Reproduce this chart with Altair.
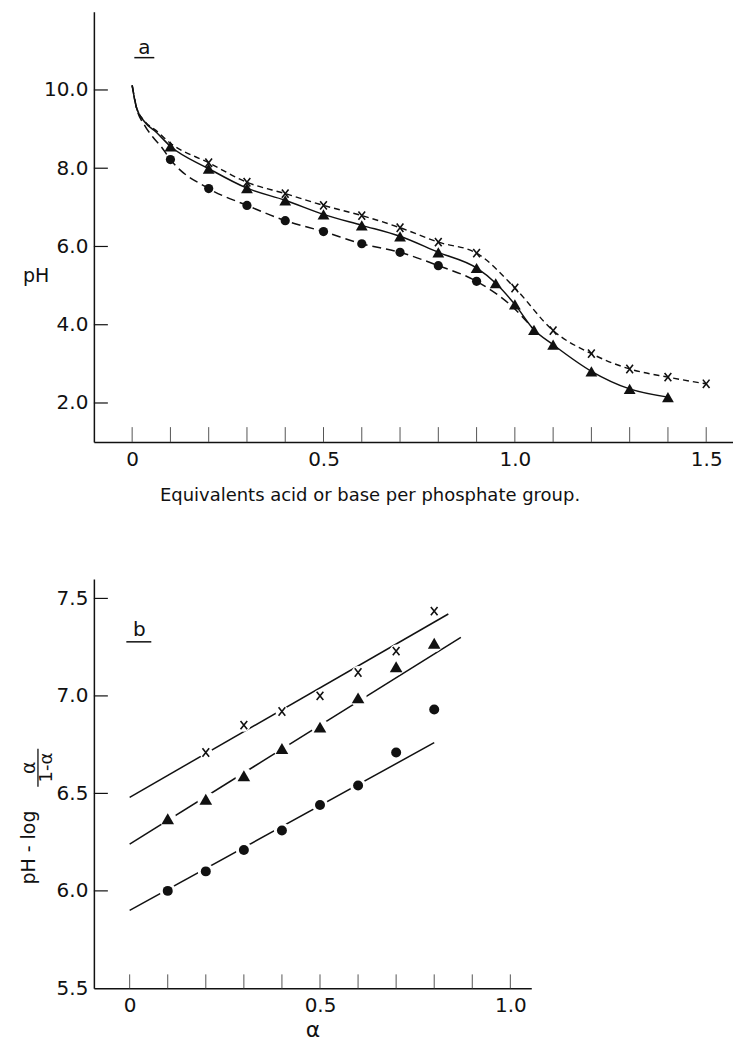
import altair as alt
import pandas as pd

# ---------------- Panel a : titration curves ----------------
a_circle_x = [0.1, 0.2, 0.3, 0.4, 0.5, 0.6, 0.7, 0.8, 0.9]
a_circle_ph = [8.22, 7.48, 7.05, 6.66, 6.38, 6.07, 5.85, 5.51, 5.11]
a_tri_x = [0.1, 0.2, 0.3, 0.4, 0.5, 0.6, 0.7, 0.8, 0.9, 0.95, 1.0, 1.05, 1.1, 1.2, 1.3, 1.4]
a_tri_ph = [8.56, 7.99, 7.49, 7.18, 6.82, 6.54, 6.26, 5.85, 5.45, 5.06, 4.52, 3.87, 3.49, 2.81, 2.36, 2.15]
a_cross_x = [0.2, 0.3, 0.4, 0.5, 0.6, 0.7, 0.8, 0.9, 1.0, 1.1, 1.2, 1.3, 1.4, 1.5]
a_cross_ph = [8.14, 7.64, 7.35, 7.05, 6.79, 6.48, 6.11, 5.83, 4.94, 3.85, 3.26, 2.87, 2.66, 2.49]

# drawn curves (incl. the steep start at 0)
a_circle_curve_x = [0.0, 0.011, 0.033, 0.054, 0.076] + a_circle_x + [1.0, 1.05]
a_circle_curve_ph = [10.12, 9.56, 9.09, 8.80, 8.55] + a_circle_ph + [4.40, 3.87]
a_tri_curve_x = [0.0, 0.011, 0.033, 0.063] + a_tri_x
a_tri_curve_ph = [10.12, 9.56, 9.18, 8.92] + a_tri_ph
a_cross_curve_x = [0.0, 0.011, 0.033, 0.063, 0.1] + a_cross_x
a_cross_curve_ph = [10.12, 9.56, 9.20, 8.96, 8.64] + a_cross_ph

a_xticks = [0.0, 0.1, 0.2, 0.3, 0.4, 0.5, 0.6, 0.7, 0.8, 0.9, 1.0, 1.1, 1.2, 1.3, 1.4, 1.5]
a_xlabels = [0.0, 0.5, 1.0, 1.5]
a_yticks = [2.0, 4.0, 6.0, 8.0, 10.0]

# ---------------- Panel b : pH - log(a/(1-a)) vs alpha ----------------
b_circle_x = [0.1, 0.2, 0.3, 0.4, 0.5, 0.6, 0.7, 0.8]
b_circle_y = [6.00, 6.10, 6.21, 6.31, 6.44, 6.54, 6.71, 6.93]
b_tri_x = [0.1, 0.2, 0.3, 0.4, 0.5, 0.6, 0.7, 0.8]
b_tri_y = [6.37, 6.47, 6.59, 6.73, 6.84, 6.99, 7.15, 7.27]
b_cross_x = [0.2, 0.3, 0.4, 0.5, 0.6, 0.7, 0.8]
b_cross_y = [6.71, 6.85, 6.92, 7.00, 7.12, 7.23, 7.435]

b_circle_fit_x = [0.0, 0.80]
b_circle_fit_y = [5.90, 6.76]
b_tri_fit_x = [0.0, 0.87]
b_tri_fit_y = [6.24, 7.30]
b_cross_fit_x = [0.0, 0.837]
b_cross_fit_y = [6.48, 7.42]

b_xticks = [0.0, 0.1, 0.2, 0.3, 0.4, 0.5, 0.6, 0.7, 0.8, 0.9, 1.0]
b_xlabels = [0.0, 0.5, 1.0]
b_yticks = [6.0, 6.5, 7.0, 7.5]
b_ylabels = [5.5, 6.0, 6.5, 7.0, 7.5]

FONT = "DejaVu Sans"
INK = "#111111"
TICK = "#555555"
CROSS = "M-1,-1.25L1,1.25M-1,1.25L1,-1.25"

W1, H1 = 640, 431
W2, H2 = 438, 410


def frame(xs, ys):
    return pd.DataFrame({"x": xs, "y": ys})


def label(t):
    return pd.DataFrame({"t": [t]})


# ---------- panel a ----------
xa = alt.X(
    "x:Q",
    scale=alt.Scale(domain=[-0.1, 1.57], nice=False, zero=False),
    axis=alt.Axis(
        values=a_xlabels,
        labelExpr="datum.value == 0 ? '0' : format(datum.value, '.1f')",
        ticks=False, grid=False, domainColor=INK, domainWidth=1.5,
        labelFont=FONT, labelFontSize=20, labelColor=INK, labelPadding=7,
        title="Equivalents acid or base per phosphate group.",
        titleFont=FONT, titleFontSize=18, titleFontWeight="normal", titleColor=INK,
        titleX=276, titleY=53, titleAlign="center", titleBaseline="middle",
    ),
)
ya = alt.Y(
    "y:Q",
    scale=alt.Scale(domain=[1, 12], nice=False, zero=False),
    axis=alt.Axis(
        values=a_yticks, format=".1f",
        ticks=False, grid=False, domainColor=INK, domainWidth=1.5,
        labelFont=FONT, labelFontSize=20, labelColor=INK, labelPadding=6,
        title="pH", titleFont=FONT, titleFontSize=19, titleFontWeight="normal",
        titleColor=INK, titleAngle=0, titleX=-71.5, titleY=264,
        titleAlign="left", titleBaseline="middle",
    ),
)

a_layers = [
    alt.Chart(pd.DataFrame({"x": a_xticks})).mark_rule(color=TICK, strokeWidth=1).encode(
        x=xa, y=alt.value(H1), y2=alt.value(H1 - 15)),
    alt.Chart(pd.DataFrame({"y": a_yticks})).mark_rule(color=INK, strokeWidth=1.2).encode(
        y=ya, x=alt.value(0), x2=alt.value(14)),
    alt.Chart(frame(a_circle_curve_x, a_circle_curve_ph)).mark_line(
        interpolate="monotone", color=INK, strokeWidth=1.5, strokeDash=[9, 5]).encode(x=xa, y=ya),
    alt.Chart(frame(a_tri_curve_x, a_tri_curve_ph)).mark_line(
        interpolate="monotone", color=INK, strokeWidth=1.5).encode(x=xa, y=ya),
    alt.Chart(frame(a_cross_curve_x, a_cross_curve_ph)).mark_line(
        interpolate="monotone", color=INK, strokeWidth=1.4, strokeDash=[6, 4]).encode(x=xa, y=ya),
    alt.Chart(frame(a_circle_x, a_circle_ph)).mark_point(
        shape="circle", filled=True, size=85, color=INK, opacity=1).encode(x=xa, y=ya),
    alt.Chart(frame(a_tri_x, a_tri_ph)).mark_point(
        shape="triangle-up", filled=True, size=140, color=INK, opacity=1).encode(x=xa, y=ya),
    alt.Chart(frame(a_cross_x, a_cross_ph)).mark_point(
        shape=CROSS, filled=False, size=45, strokeWidth=1.6, color=INK, opacity=1).encode(x=xa, y=ya),
    alt.Chart(label("a")).mark_text(font=FONT, fontSize=20, color=INK).encode(
        text="t:N", x=alt.value(50.5), y=alt.value(36)),
    alt.Chart(label("a")).mark_rule(color=INK, strokeWidth=1.5).encode(
        x=alt.value(40.5), x2=alt.value(60.5), y=alt.value(46)),
]
top = alt.layer(*a_layers).properties(width=W1, height=H1)

# ---------- panel b ----------
xb = alt.X(
    "x:Q",
    scale=alt.Scale(domain=[-0.094, 1.055], nice=False, zero=False),
    axis=alt.Axis(
        values=b_xlabels,
        labelExpr="datum.value == 0 ? '0' : format(datum.value, '.1f')",
        ticks=False, grid=False, domainColor=INK, domainWidth=1.5,
        labelFont=FONT, labelFontSize=20, labelColor=INK, labelPadding=7,
        title="α", titleFont=FONT, titleFontSize=22, titleFontWeight="normal", titleColor=INK,
        titleX=219, titleY=41, titleAlign="center", titleBaseline="middle",
    ),
)
yb = alt.Y(
    "y:Q",
    scale=alt.Scale(domain=[5.5, 7.6], nice=False, zero=False),
    axis=alt.Axis(
        values=b_ylabels, format=".1f",
        ticks=False, grid=False, domainColor=INK, domainWidth=1.5,
        labelFont=FONT, labelFontSize=20, labelColor=INK, labelPadding=6,
        title=None,
    ),
)

b_layers = [
    alt.Chart(pd.DataFrame({"x": b_xticks})).mark_rule(color=TICK, strokeWidth=1).encode(
        x=xb, y=alt.value(H2), y2=alt.value(H2 - 14)),
    alt.Chart(pd.DataFrame({"y": b_yticks})).mark_rule(color=INK, strokeWidth=1.2).encode(
        y=yb, x=alt.value(0), x2=alt.value(14)),
    alt.Chart(frame(b_circle_fit_x, b_circle_fit_y)).mark_line(color=INK, strokeWidth=1.5).encode(x=xb, y=yb),
    alt.Chart(frame(b_tri_fit_x, b_tri_fit_y)).mark_line(color=INK, strokeWidth=1.5).encode(x=xb, y=yb),
    alt.Chart(frame(b_cross_fit_x, b_cross_fit_y)).mark_line(color=INK, strokeWidth=1.5).encode(x=xb, y=yb),
    # white gaps where the fitted lines pass the symbols
    alt.Chart(frame(b_circle_x, b_circle_y)).mark_point(
        shape="circle", filled=True, size=260, color="white", opacity=1).encode(x=xb, y=yb),
    alt.Chart(frame(b_tri_x, b_tri_y)).mark_point(
        shape="circle", filled=True, size=300, color="white", opacity=1).encode(x=xb, y=yb),
    alt.Chart(frame(b_cross_x, b_cross_y)).mark_point(
        shape="circle", filled=True, size=170, color="white", opacity=1).encode(x=xb, y=yb),
    alt.Chart(frame(b_circle_x, b_circle_y)).mark_point(
        shape="circle", filled=True, size=100, color=INK, opacity=1).encode(x=xb, y=yb),
    alt.Chart(frame(b_tri_x, b_tri_y)).mark_point(
        shape="triangle-up", filled=True, size=160, color=INK, opacity=1).encode(x=xb, y=yb),
    alt.Chart(frame(b_cross_x, b_cross_y)).mark_point(
        shape=CROSS, filled=False, size=45, strokeWidth=1.6, color=INK, opacity=1).encode(x=xb, y=yb),
    alt.Chart(label("b")).mark_text(font=FONT, fontSize=20, color=INK).encode(
        text="t:N", x=alt.value(45.5), y=alt.value(51)),
    alt.Chart(label("b")).mark_rule(color=INK, strokeWidth=1.5).encode(
        x=alt.value(32.5), x2=alt.value(57.5), y=alt.value(63)),
    # y title: pH - log  α / (1-α)
    alt.Chart(label("pH - log")).mark_text(font=FONT, fontSize=19, color=INK, angle=270,
                                           align="center", baseline="middle").encode(
        text="t:N", x=alt.value(-65), y=alt.value(269)),
    alt.Chart(label("α")).mark_text(font=FONT, fontSize=19, color=INK, angle=270,
                                    align="center", baseline="middle").encode(
        text="t:N", x=alt.value(-65), y=alt.value(189)),
    alt.Chart(label("bar")).mark_rule(color=INK, strokeWidth=1.3).encode(
        x=alt.value(-56), y=alt.value(170), y2=alt.value(208)),
    alt.Chart(label("1-α")).mark_text(font=FONT, fontSize=18, color=INK, angle=270,
                                      align="center", baseline="middle").encode(
        text="t:N", x=alt.value(-46.5), y=alt.value(189)),
]
bottom = alt.layer(*b_layers).properties(width=W2, height=H2)

chart = alt.vconcat(top, bottom, spacing=137, bounds="flush").properties(
    padding={"left": 12, "top": 3, "right": 0, "bottom": 0},
    background="white",
).configure_view(stroke=None)

chart.save("out.html", embed_options={"renderer": "svg", "actions": False})
